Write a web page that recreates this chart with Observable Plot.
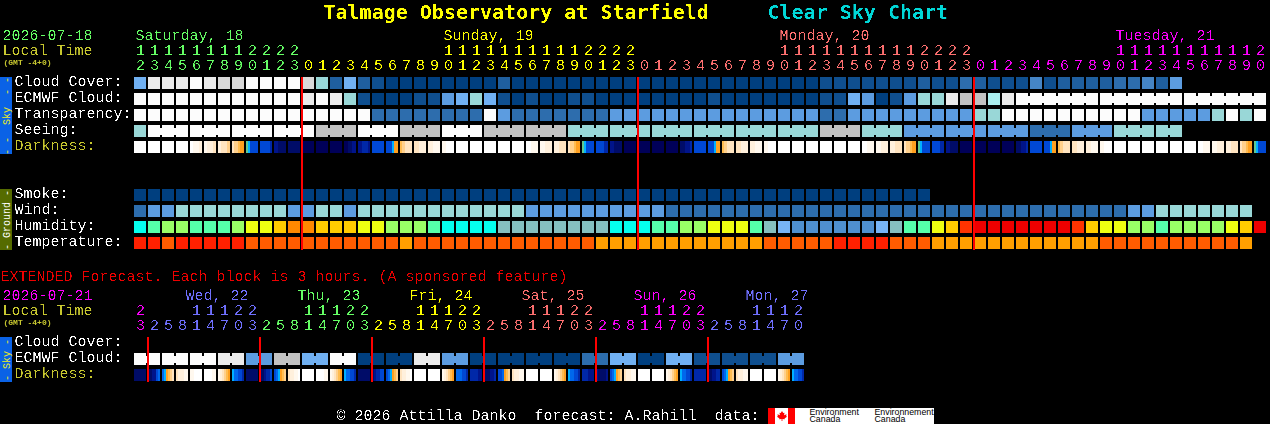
<!DOCTYPE html>
<html>
<head>
<meta charset="utf-8">
<script src="https://cdn.jsdelivr.net/npm/d3@7"></script>
<script src="https://cdn.jsdelivr.net/npm/@observablehq/plot@0.6"></script>
<style>
html,body{margin:0;padding:0;background:#000;overflow:hidden}
svg text{white-space:pre}
svg g[aria-label="text"][font-size="15"],svg g[aria-label="text"][font-size="20"]{filter:url(#crisp)}
</style>
</head>
<body>
<div id="chart"></div>
<script>
// ---------- chart values ----------
const mainHours = [12,13,14,15,16,17,18,19,20,21,22,23,
  0,1,2,3,4,5,6,7,8,9,10,11,12,13,14,15,16,17,18,19,20,21,22,23,
  0,1,2,3,4,5,6,7,8,9,10,11,12,13,14,15,16,17,18,19,20,21,22,23,
  0,1,2,3,4,5,6,7,8,9,10,11,12,13,14,15,16,17,18,19,20];
const extHours = [23,2,5,8,11,14,17,20,23,2,5,8,11,14,17,20,23,2,5,8,11,14,17,20,23,
  2,5,8,11,14,17,20,23,2,5,8,11,14,17,20,23,2,5,8,11,14,17,20];
const mainDays = ["Saturday, 18","Sunday, 19","Monday, 20","Tuesday, 21"];
const mainDayHues = ["dayGreen","dayYellow","daySalmon","dayMagenta"];
const extDays = ["Wed, 22","Thu, 23","Fri, 24","Sat, 25","Sun, 26","Mon, 27"];
const extDayHues = ["dayMagenta","dayBlue","dayGreen","dayYellow","daySalmon","dayMagenta","dayBlue"];

// sky levels: 0 clear navy ... 11 overcast white
const cloudCover = [6,10,10,10,11,10,9,9,11,11,11,11,9,7,2,6,2,1,0,0,0,0,0,0,0,0,2,
  0,0,0,0,0,0,0,0,0,0,0,0,0,0,0,0,0,0,0,0,0,0,1,1,1,1,1,1,1,2,1,1,3,2,1,1,1,4,1,2,2,2,2,3,3,4,2,5];
const ecmwfCloud = [11,11,11,11,11,11,11,11,11,11,11,11,10,11,10,7,1,0,0,0,1,1,5,6,7,6,1,0,1,0,0,1,1,
  0,0,0,0,0,0,0,0,1,0,0,0,0,0,0,0,1,1,6,5,0,1,5,7,7,10,8,8,12,10,
  11,11,11,11,11,11,11,11,11,11,11,11,11,11,11,11,11,11];
const transparency = [11,11,11,11,11,11,11,11,11,11,11,11,11,11,11,11,11,3,3,3,3,3,3,3,3,11,5,
  3,3,3,3,3,3,3,5,5,5,5,5,5,5,5,5,5,5,5,5,5,5,3,3,5,5,5,5,5,5,5,5,5,7,7,
  11,11,11,11,11,11,11,11,11,11,5,5,5,5,5,7,11,7,11];
const seeing = [7,11,11,11,11,11,11,11,11,11,11,11,11,8,8,8,11,11,11,8,8,8,11,11,11,8,8,8,8,8,8,
  7,7,7,7,7,7,7,7,7,7,7,7,7,7,7,7,7,7,8,8,8,7,7,7,5,5,5,5,5,5,5,5,5,3,3,3,5,5,5,7,7,7,7,7];
const smoke = [0,0,0,0,0,0,0,0,0,0,0,0,0,0,0,0,0,0,0,0,0,0,0,0,0,0,0,0,0,0,0,0,0,0,0,0,0,0,0,0,0,0,0,0,0,0,0,0,0,0,0,0,0,0,0,0,0];
const wind = [3,5,5,7,7,7,7,7,7,7,7,5,5,7,7,5,7,7,7,7,7,7,7,7,7,7,7,7,5,5,5,5,5,5,5,5,5,5,
  3,3,3,3,3,3,3,3,3,3,3,3,3,3,3,3,3,3,3,3,3,3,3,3,3,3,3,3,3,3,3,3,3,5,5,7,7,7,7,7,7,7];
const humidity = [0,1,2,2,1,1,1,2,3,3,4,5,5,4,4,4,3,3,2,2,2,1,0,0,0,0,8,8,8,8,8,8,8,8,0,0,0,1,1,2,2,3,3,3,1,8,
  10,9,9,9,9,9,9,10,8,1,1,3,4,6,7,7,7,7,7,7,7,6,4,3,3,2,2,1,2,2,2,2,3,4,7];
const temperature = [0,0,1,0,0,0,0,0,1,1,1,1,1,1,1,1,1,1,1,2,1,1,1,1,1,1,1,1,1,1,1,1,1,
  2,2,2,2,2,2,2,2,2,2,2,2,1,1,1,1,1,0,0,0,0,1,1,1,2,2,2,2,2,2,2,2,2,2,2,2,1,1,1,1,1,1,1,1,1,1,2];
const darkness = ["a","a","a","a","abbc","bccd","cdde","deefgg","hikkkk","kkkkkl","mmnnnn","n","o","o","o","oonnmm","mmlllm","kkkkkk","kkkigg","feddd","ddccc","ccbbb","bbaaaa",
  "a","a","a","a","a","aabbb","bbccc","ccddd","deefgg","hikkkk","kkkkll","mmnnnn","o","o","o","o","nnmml","kkkkkk","kkkigg","feddd","ddccc","ccbbb","bbaaaa",
  "a","a","a","a","a","a","aabbb","bbccc","ccddd","deefgg","hikkkk","kkkkll","mmnnnn","o","o","o","o","nnmml","kkkkkk","kkkigg","feddd","ddccc","ccbbb","bbaaaa",
  "a","a","a","a","a","a","aabbb","bbccc","ccddd","deefgg","hikkkk"];
// extended forecast: 3-hour blocks, ECMWF cloud comes in pairs of blocks
const extEcmwfCloud = [11,11,11,10,5,8,6,11,0,0,10,5,0,0,0,0,3,6,0,6,1,1,1,5];
const extDarkness = ["n","nnmmkj","jigfed","dcccbb","bbaaaa","aaaabb","bcdefg","ijjkkl","n","nnmllk","kjigfe","dccbba","a","aaaabb","bcdefg","ijjkkl","n","nmllkk","kjigfe","dccbba","a","a",
  "bcdefg","jjjkkl","llllmm","nnnmml","kkjgfe","dccbb","a","a","bcdefg","ijjkkl","lllmmm","mnnnnm","kjigfe","dccbb","a","a","bcdefg","ijjkkl","llllll","nnmmll","kjigfe","dccbb","a","a","bcdefg","ijjkkl"];

// ---------- palettes ----------
const skyColors = ["#003f7f","#0f4f8f","#1f5f9f","#2d6dad","#4585c5","#5c9ce0","#70b0f2","#99d7d7","#c2c2c2","#d9d9d9","#ebebeb","#fcfcfc","#aaeeee"];
const humidityColors = ["#05ffee","#55ffaa","#99ff66","#eeff11","#ffcc00","#ff8800","#ff3300","#ee0000","#85bfbf","#4f8fcf","#77b4f6"];
const temperatureColors = ["#ff2000","#ff5c00","#ff9f00"];
const darknessShades = {a:"#ffffff",b:"#fff8ee",c:"#fff0dc",d:"#ffe4c0",e:"#ffd08c",f:"#ffbc50",g:"#ffa020",h:"#60c890",i:"#00b0ff",j:"#0068ec",k:"#0048d4",l:"#0028a8",m:"#00148a",n:"#000c68",o:"#000058"};
const dayColors = {dayGreen:"#66ff66",dayYellow:"#ffff00",daySalmon:"#ff7070",dayMagenta:"#ff00ff",dayBlue:"#7070ff"};

const colorDomain = [], colorRange = [];
skyColors.forEach((c,i)=>{colorDomain.push("s"+i);colorRange.push(c);});
humidityColors.forEach((c,i)=>{colorDomain.push("h"+i);colorRange.push(c);});
temperatureColors.forEach((c,i)=>{colorDomain.push("t"+i);colorRange.push(c);});
Object.entries(darknessShades).forEach(([k,c])=>{colorDomain.push("d"+k);colorRange.push(c);});
Object.entries(dayColors).forEach(([k,c])=>{colorDomain.push(k);colorRange.push(c);});

// ---------- layout: one column = 14px, one row = 16px ----------
const colAt = px => (px-134)/14;
const rowAt = px => (px-77)/16;
const blockW = 12/14, blockH = 12/16;
const rowIndex = {cloud:0,ecmwf:1,transparency:2,seeing:3,darkness:4,smoke:7,wind:8,humidity:9,temperature:10,
  extCloud:rowAt(337),extEcmwf:rowAt(353),extDarkness:rowAt(369)};

const blocks = [];
const addRow = (values,row,prefix) => values.forEach((v,col)=>blocks.push({col,row,key:prefix+v}));
addRow(cloudCover,rowIndex.cloud,"s");
addRow(ecmwfCloud,rowIndex.ecmwf,"s");
addRow(transparency,rowIndex.transparency,"s");
addRow(seeing,rowIndex.seeing,"s");
addRow(smoke,rowIndex.smoke,"s");
addRow(wind,rowIndex.wind,"s");
addRow(humidity,rowIndex.humidity,"h");
addRow(temperature,rowIndex.temperature,"t");
extEcmwfCloud.forEach((v,p)=>{
  blocks.push({col:2*p,row:rowIndex.extEcmwf,key:"s"+v});
  blocks.push({col:2*p+1,row:rowIndex.extEcmwf,key:"s"+v});
});

// joins between blocks of one forecast step (small bridges in the gap)
const bridges = [];
seeing.forEach((v,col)=>{ if(col>=1 && col<seeing.length-1 && (col-1)%3!==2) bridges.push({col,row:rowIndex.seeing,key:"s"+v}); });
ecmwfCloud.forEach((v,col)=>{ if(col>=63 && col<ecmwfCloud.length-1 && (col-63)%6!==5) bridges.push({col,row:rowIndex.ecmwf,key:"s"+v}); });
extEcmwfCloud.forEach((v,p)=>bridges.push({col:2*p,row:rowIndex.extEcmwf,key:"s"+v}));

// darkness: each block holds a left-to-right run of shades
const shadeCells = [];
const addShades = (list,row) => list.forEach((s,col)=>[...s].forEach((ch,i)=>shadeCells.push({
  x1:col+blockW*i/s.length, x2:col+blockW*(i+1)/s.length, row, key:"d"+ch})));
addShades(darkness,rowIndex.darkness);
addShades(extDarkness,rowIndex.extDarkness);

// hour digits
const hourDigits = (hours,hues,tensPx,unitsPx) => {
  const tens=[],units=[]; let day=0;
  hours.forEach((h,col)=>{
    if(col>0 && h<hours[col-1]) day++;
    if(h>=10) tens.push({col,y:rowAt(tensPx),t:String(Math.floor(h/10)),key:hues[day]});
    units.push({col,y:rowAt(unitsPx),t:String(h%10),key:hues[day]});
  });
  return tens.concat(units);
};
const digits = hourDigits(mainHours,mainDayHues,50,65).concat(hourDigits(extHours,extDayHues,310,325));

const mono = "Liberation Mono, DejaVu Sans Mono, monospace";
const labels = [
  {t:"Cloud Cover:",y:81,fill:"#fff"},{t:"ECMWF Cloud:",y:97,fill:"#fff"},{t:"Transparency:",y:113,fill:"#fff"},
  {t:"Seeing:",y:129,fill:"#fff"},{t:"Darkness:",y:145,fill:"#c8c830"},
  {t:"Smoke:",y:193,fill:"#fff"},{t:"Wind:",y:209,fill:"#fff"},{t:"Humidity:",y:225,fill:"#fff"},{t:"Temperature:",y:241,fill:"#fff"},
  {t:"Cloud Cover:",y:341,fill:"#fff"},{t:"ECMWF Cloud:",y:357,fill:"#fff"},{t:"Darkness:",y:373,fill:"#c8c830"}
];
const bands = [
  {y1:77,y2:154,fill:"#0a62e6",t:"- -  Sky  - -",c:"#eeee20"},
  {y1:189,y2:250,fill:"#556b00",t:"- Ground -",c:"#ffffff"},
  {y1:337,y2:382,fill:"#0a62e6",t:"- Sky -",c:"#eeee20"}
];
const leftText = [
  {t:"2026-07-18",y:35,fill:"#66ff66",px:2},{t:"Local Time",y:50,fill:"#c8c830",px:2},
  {t:"EXTENDED Forecast. Each block is 3 hours. (A sponsored feature)",y:276,fill:"#ee0000",px:0},
  {t:"2026-07-21",y:295,fill:"#ff00ff",px:2},{t:"Local Time",y:310,fill:"#c8c830",px:2}
];
const gmtNotes = [{t:"(GMT -4+0)",y:62},{t:"(GMT -4+0)",y:322}];
const dayHeads = mainDays.map((t,i)=>({t,col:[0,22,46,70][i],y:rowAt(35),key:mainDayHues[i]}))
  .concat(extDays.map((t,i)=>({t,col:colAt(184+112*i),y:rowAt(295),key:extDayHues[i+1]})));
const logoRects = [
  {x1:768,x2:934,fill:"#fff"},{x1:768,x2:775,fill:"#f00"},{x1:788,x2:795,fill:"#f00"}
];
const logoText = [
  {x:809,y:411.5,t:"Environment"},{x:809,y:419,t:"Canada"},{x:874,y:411.5,t:"Environnement"},{x:874,y:419,t:"Canada"}
];
const leafShape = [[0,-6],[1.5,-3.5],[3,-4],[2.5,-1],[5.5,-2],[5,0],[6,1],[3,3],[3.5,4],[0.5,3.5],[0.5,6],[-0.5,6],[-0.5,3.5],[-3.5,4],[-3,3],[-6,1],[-5,0],[-5.5,-2],[-2.5,-1],[-3,-4],[-1.5,-3.5]];
const leafSymbol = {draw(ctx,size){
  const k = Math.sqrt(size/Math.PI)/6;
  leafShape.forEach(([a,b],i)=> i ? ctx.lineTo(a*k,b*k) : ctx.moveTo(a*k,b*k));
  ctx.closePath();
}};

const chart = Plot.plot({
  width:1270, height:424, margin:0,
  style:{background:"#000",fontFamily:mono},
  x:{domain:[colAt(0),colAt(1270)],range:[0,1270],axis:null},
  y:{domain:[rowAt(0),rowAt(424)],range:[0,424],axis:null},
  color:{type:"ordinal",domain:colorDomain,range:colorRange},
  marks:[
    // side bands
    Plot.rect(bands,{x1:colAt(0),x2:colAt(12),y1:d=>rowAt(d.y1),y2:d=>rowAt(d.y2),fill:d=>d.fill,shapeRendering:"crispEdges"}),
    Plot.text(bands,{x:colAt(6),y:d=>rowAt((d.y1+d.y2)/2),text:"t",textAnchor:"middle",rotate:-90,fontSize:10,fill:d=>d.c,fontFamily:mono}),
    // forecast blocks
    Plot.rect(blocks,{x1:"col",x2:d=>d.col+blockW,y1:"row",y2:d=>d.row+blockH,fill:"key",shapeRendering:"crispEdges"}),
    Plot.rect(bridges,{x1:d=>d.col+blockW,x2:d=>d.col+1,y1:d=>d.row+2.5/16,y2:d=>d.row+9.5/16,fill:"key",shapeRendering:"crispEdges"}),
    Plot.rect(shadeCells,{x1:"x1",x2:"x2",y1:"row",y2:d=>d.row+blockH,fill:"key",shapeRendering:"crispEdges"}),
    // midnight lines
    Plot.ruleX([12,36,60],{x:d=>d,y1:rowAt(77),y2:rowAt(250),stroke:"#f00",strokeWidth:2,dx:-0.5,shapeRendering:"crispEdges"}),
    Plot.ruleX([1,9,17,25,33,41],{x:d=>d,y1:rowAt(337),y2:rowAt(382),stroke:"#f00",strokeWidth:2,dx:-0.5,shapeRendering:"crispEdges"}),
    // title
    Plot.text(["Talmage Observatory at Starfield"],{x:colAt(323),y:rowAt(12),text:d=>d,textAnchor:"start",fontSize:20,fontWeight:"bold",fill:"#ffff00",fontFamily:"DejaVu Sans Mono"}),
    Plot.text(["Clear Sky Chart"],{x:colAt(767),y:rowAt(12),text:d=>d,textAnchor:"start",fontSize:20,fontWeight:"bold",fill:"#00d8d8",fontFamily:"DejaVu Sans Mono"}),
    // headings and row labels
    Plot.text(leftText,{x:d=>colAt(d.px),y:d=>rowAt(d.y),text:"t",textAnchor:"start",fontSize:15,fill:d=>d.fill,fontFamily:mono}),
    Plot.text(gmtNotes,{x:colAt(3),y:d=>rowAt(d.y),text:"t",textAnchor:"start",fontSize:8,fontWeight:"bold",fill:"#c8c830",fontFamily:mono}),
    Plot.text(labels,{x:colAt(14),y:d=>rowAt(d.y),text:"t",textAnchor:"start",fontSize:15,fill:d=>d.fill,fontFamily:mono}),
    Plot.text(dayHeads,{x:"col",y:"y",dx:1,text:"t",textAnchor:"start",fontSize:15,fill:"key",fontFamily:mono}),
    Plot.text(digits,{x:d=>d.col+6/14,y:"y",text:"t",textAnchor:"middle",fontSize:15,fill:"key",fontFamily:mono}),
    // footer
    Plot.text(["© 2026 Attilla Danko  forecast: A.Rahill  data:"],{x:colAt(336),y:rowAt(415),text:d=>d,textAnchor:"start",fontSize:15,fill:"#fff",fontFamily:mono}),
    Plot.rect(logoRects,{x1:d=>colAt(d.x1),x2:d=>colAt(d.x2),y1:rowAt(408),y2:rowAt(424),fill:d=>d.fill,shapeRendering:"crispEdges"}),
    Plot.dot([colAt(781.5)],{x:d=>d,y:rowAt(415.5),symbol:leafSymbol,r:5,fill:"#f00",stroke:null}),
    Plot.text(logoText,{x:d=>colAt(d.x),y:d=>rowAt(d.y),text:"t",textAnchor:"start",fontSize:8.8,fill:"#000",fontFamily:"Liberation Sans"})
  ]
});
// a small alpha threshold gives the large text the hard, thin edges of the reference
const crisp = d3.select(chart).insert("defs",":first-child").append("filter").attr("id","crisp")
  .attr("filterUnits","userSpaceOnUse").attr("x",0).attr("y",0).attr("width",1270).attr("height",424);
crisp.append("feComponentTransfer").append("feFuncA").attr("type","linear").attr("slope",5).attr("intercept",-2.4);
document.getElementById("chart").appendChild(chart);
</script>
</body>
</html>
